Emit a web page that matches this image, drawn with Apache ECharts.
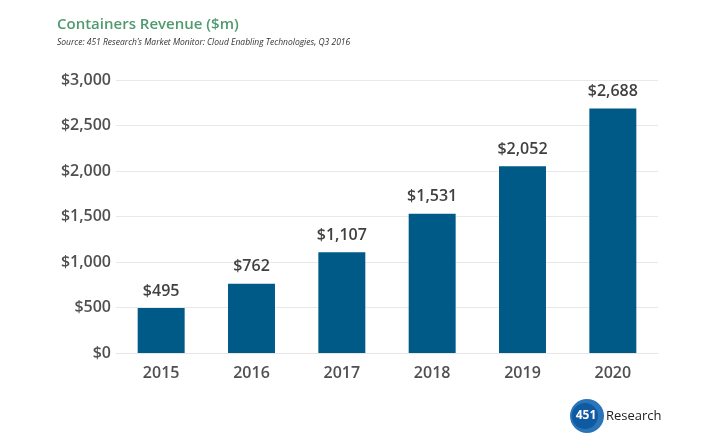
<!DOCTYPE html>
<html>
<head>
<meta charset="utf-8">
<script src="https://cdn.jsdelivr.net/npm/echarts@6/dist/echarts.min.js"></script>
<style>
  html, body { margin: 0; padding: 0; background: #ffffff; }
  #main { width: 716px; height: 443px; }
</style>
</head>
<body>
<div id="main"></div>
<script>
var years = ['2015', '2016', '2017', '2018', '2019', '2020'];
var revenue = [495, 762, 1107, 1531, 2052, 2688];

var myChart = echarts.init(document.getElementById('main'));

function money(v) {
    return '$' + v.toString().replace(/\B(?=(\d{3})+(?!\d))/g, ',');
}

var option = {
    backgroundColor: '#ffffff',
    textStyle: { fontFamily: 'Open Sans' },
    title: {
        text: 'Containers Revenue ($m)',
        subtext: 'Source: 451 Research\u2019s Market Monitor: Cloud Enabling Technologies, Q3 2016',
        left: 52,
        top: 12,
        itemGap: 6,
        textStyle: {
            color: '#4f9a6e',
            fontSize: 15,
            fontWeight: 600,
            fontFamily: 'Open Sans'
        },
        subtextStyle: {
            color: '#333333',
            fontSize: 8.5,
            fontStyle: 'italic',
            fontFamily: 'Open Sans'
        }
    },
    grid: {
        left: 116,
        right: 58,
        top: 80,
        bottom: 90,
        containLabel: false
    },
    xAxis: {
        type: 'category',
        data: years,
        axisLine: { lineStyle: { color: '#e6e6e6' } },
        axisTick: { show: false },
        axisLabel: {
            color: '#505050',
            fontSize: 16,
            fontWeight: 600,
            margin: 12
        }
    },
    yAxis: {
        type: 'value',
        min: 0,
        max: 3000,
        interval: 500,
        axisLine: { show: false },
        axisTick: { show: false },
        splitLine: { lineStyle: { color: '#e8e8e8' } },
        axisLabel: {
            color: '#505050',
            fontSize: 16,
            fontWeight: 600,
            margin: 5,
            formatter: function (v) { return money(v); }
        }
    },
    series: [
        {
            type: 'bar',
            data: revenue,
            barWidth: '52%',
            itemStyle: { color: '#005a87' },
            label: {
                show: true,
                position: 'top',
                distance: 9,
                color: '#404040',
                fontSize: 16,
                fontWeight: 600,
                formatter: function (p) { return money(p.value); }
            }
        }
    ],
    graphic: [
        {
            type: 'circle',
            shape: { cx: 587, cy: 416, r: 17 },
            style: { fill: '#2a74b8' }
        },
        {
            type: 'circle',
            shape: { cx: 585, cy: 416, r: 13 },
            style: { fill: '#0f5aa0' }
        },
        {
            type: 'text',
            x: 586,
            y: 416,
            style: {
                text: '451',
                fill: '#ffffff',
                fontSize: 12,
                fontWeight: 'bold',
                fontFamily: 'Open Sans',
                align: 'center',
                verticalAlign: 'middle'
            }
        },
        {
            type: 'text',
            x: 606,
            y: 416,
            style: {
                text: 'Research',
                fill: '#222222',
                fontSize: 13,
                fontFamily: 'Open Sans',
                align: 'left',
                verticalAlign: 'middle'
            }
        }
    ]
};

myChart.setOption(option);
</script>
</body>
</html>
